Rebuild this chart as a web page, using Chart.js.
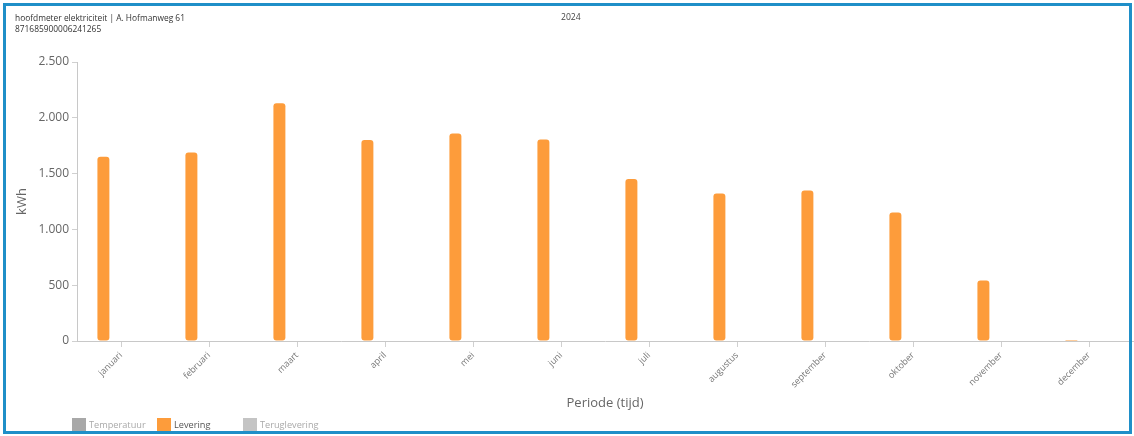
<!DOCTYPE html>
<html>
<head>
<meta charset="utf-8">
<script src="https://cdn.jsdelivr.net/npm/chart.js@4"></script>
<style>
  body { margin: 0; background: #fff; font-family: "Open Sans", sans-serif; }
  .wrap { position: relative; width: 1134px; height: 436px; overflow: hidden; }
  .frame { position: absolute; left: 3px; top: 3px; width: 1123px; height: 425px; border: 3px solid #1f8fc8; pointer-events: none; }
  .head { position: absolute; left: 15px; top: 12px; font-size: 8.4px; line-height: 11px; color: #333; }
  .year { position: absolute; left: 561px; top: 12px; font-size: 8.6px; line-height: 11px; color: #444; }
  .legend { position: absolute; left: 72px; top: 418px; font-size: 9.2px; }
  .legend span { position: absolute; top: 0; white-space: nowrap; line-height: 14px; }
  .legend i { display: inline-block; width: 14px; height: 14px; vertical-align: top; margin-right: 3px; }
</style>
</head>
<body>
<div class="wrap">
  <canvas id="myChart" width="1134" height="436"></canvas>
  <div class="head">hoofdmeter elektriciteit | A. Hofmanweg 61<br>871685900006241265</div>
  <div class="year">2024</div>
  <div class="legend" id="legend"></div>
  <div class="frame"></div>
</div>
<script>
const labels = ["januari", "februari", "maart", "april", "mei", "juni", "juli", "augustus", "september", "oktober", "november", "december"];
const levering = [1650, 1690, 2130, 1800, 1860, 1805, 1452, 1322, 1348, 1152, 542, 8];
const teruglevering = [0, 0, 0, 0, 0, 0, 0, 0, 0, 0, 0, 0];
const temperatuur = [];

const legendItems = [
  { text: "Temperatuur", box: "#a8a8a8", color: "#a9a9a9", x: 0 },
  { text: "Levering", box: "#fd9c3b", color: "#555", x: 85 },
  { text: "Teruglevering", box: "#c4c4c4", color: "#a9a9a9", x: 171 },
];

const legend = document.getElementById("legend");
legendItems.forEach(function (it) {
  const s = document.createElement("span");
  s.style.left = it.x + "px";
  s.style.color = it.color;
  s.innerHTML = '<i style="background:' + it.box + '"></i>' + it.text;
  legend.appendChild(s);
});

function dots(v) {
  return String(v).replace(/\B(?=(\d{3})+(?!\d))/g, ".");
}

const data = {
  labels: labels,
  datasets: [
    {
      type: "line",
      label: "Temperatuur",
      data: temperatuur,
      borderColor: "#a8a8a8",
    },
    {
      label: "Levering",
      data: levering,
      backgroundColor: "#fd9c3b",
      borderRadius: 3,
      borderSkipped: false,
      barPercentage: 0.34,
      categoryPercentage: 0.8,
    },
    {
      label: "Teruglevering",
      data: teruglevering,
      backgroundColor: "#c4c4c4",
      barPercentage: 0.34,
      categoryPercentage: 0.8,
    },
  ],
};

const config = {
  type: "bar",
  data: data,
  options: {
    responsive: false,
    animation: false,
    layout: { padding: { top: 62, left: 10, right: 1, bottom: 21 } },
    plugins: { legend: { display: false }, tooltip: { enabled: false } },
    scales: {
      x: {
        grid: { drawOnChartArea: false, offset: false, tickLength: 6, color: "#d0d0d0" },
        border: { color: "#c8c8c8" },
        ticks: {
          color: "#777",
          font: { family: "Open Sans", size: 9 },
          minRotation: 45,
          maxRotation: 45,
          padding: 3,
        },
        title: {
          display: true,
          text: "Periode (tijd)",
          color: "#666",
          font: { family: "Open Sans", size: 13 },
        },
        afterFit: function (scale) { scale.height = 74; },
      },
      y: {
        min: 0,
        max: 2500,
        grid: { drawOnChartArea: false, tickLength: 5, color: "#d0d0d0" },
        border: { color: "#c8c8c8" },
        ticks: {
          stepSize: 500,
          color: "#666",
          font: { family: "Open Sans", size: 12 },
          padding: 3,
          callback: function (v) { return dots(v); },
        },
        title: {
          display: true,
          text: "kWh",
          color: "#666",
          font: { family: "Open Sans", size: 13 },
        },
        afterFit: function (scale) { scale.width = 67; },
      },
    },
  },
};

var myChart = new Chart(document.getElementById("myChart"), config);
</script>
</body>
</html>
